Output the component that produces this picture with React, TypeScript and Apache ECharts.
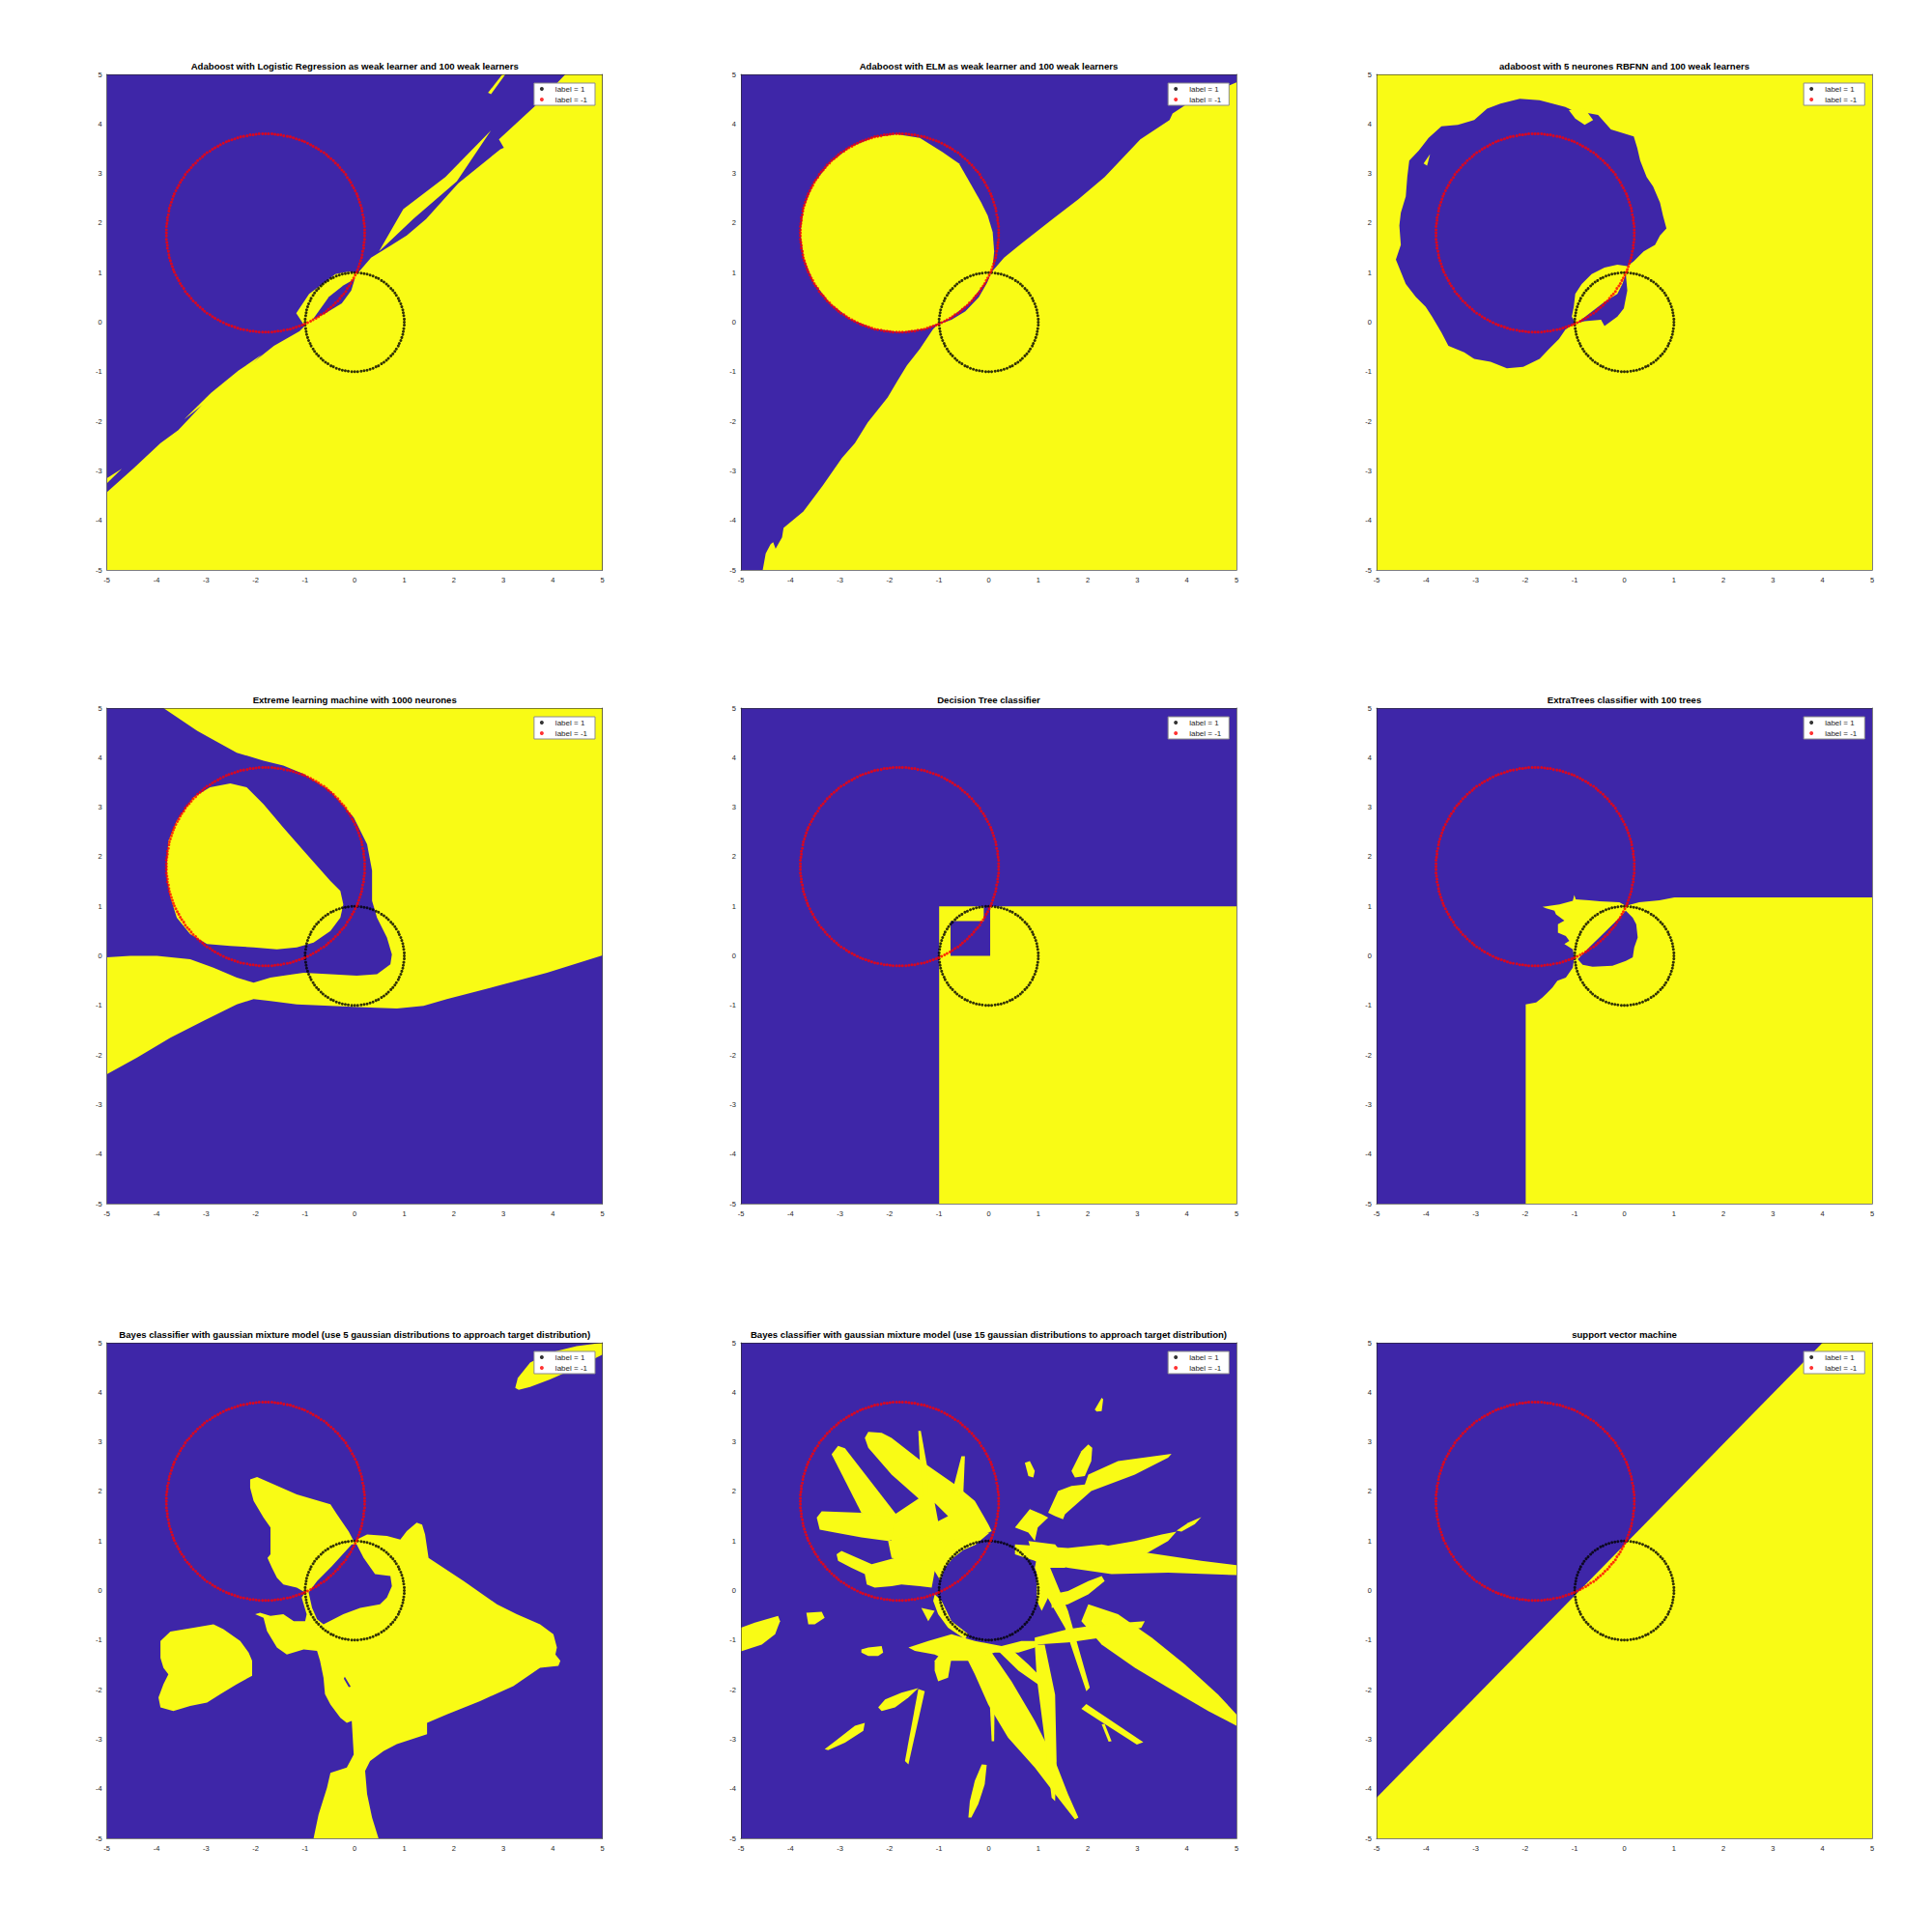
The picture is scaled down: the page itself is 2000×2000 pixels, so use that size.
import { useEffect, useRef } from 'react';
import * as echarts from 'echarts';

type Pt = [number, number];
type Poly = Pt[];

const BLUE = '#3e26a8';
const YELLOW = '#f9fb15';

const AXIS_MIN = -5;
const AXIS_MAX = 5;
const AXIS_STEP = 1;

const LEGEND_NAMES = ['label = 1', 'label = -1'];

const TITLES = [
    'Adaboost with Logistic Regression as weak learner and 100 weak learners',
    'Adaboost with ELM as weak learner and 100 weak learners',
    'adaboost with 5 neurones RBFNN and 100 weak learners',
    'Extreme learning machine with 1000 neurones',
    'Decision Tree classifier',
    'ExtraTrees classifier with 100 trees',
    'Bayes classifier with gaussian mixture model (use 5 gaussian distributions to approach target distribution)',
    'Bayes classifier with gaussian mixture model (use 15 gaussian distributions to approach target distribution)',
    'support vector machine',
];

// samples with label = 1 (black)
const POS_POINTS: Pt[] = [
    [1.00, 0.00], [1.00, 0.06], [0.99, 0.13], [0.98, 0.19], [0.97, 0.25], [0.95, 0.31], [0.93, 0.37], [0.90, 0.43], [0.88, 0.48], [0.84, 0.54],
    [0.81, 0.59], [0.77, 0.64], [0.73, 0.68], [0.68, 0.73], [0.64, 0.77], [0.59, 0.81], [0.54, 0.84], [0.48, 0.88], [0.43, 0.90], [0.37, 0.93],
    [0.31, 0.95], [0.25, 0.97], [0.19, 0.98], [0.13, 0.99], [0.06, 1.00],
    [0.00, 1.00], [-0.06, 1.00], [-0.13, 0.99], [-0.19, 0.98], [-0.25, 0.97], [-0.31, 0.95], [-0.37, 0.93], [-0.43, 0.90], [-0.48, 0.88], [-0.54, 0.84],
    [-0.59, 0.81], [-0.64, 0.77], [-0.68, 0.73], [-0.73, 0.68], [-0.77, 0.64], [-0.81, 0.59], [-0.84, 0.54], [-0.88, 0.48], [-0.90, 0.43], [-0.93, 0.37],
    [-0.95, 0.31], [-0.97, 0.25], [-0.98, 0.19], [-0.99, 0.13], [-1.00, 0.06],
    [-1.00, 0.00], [-1.00, -0.06], [-0.99, -0.13], [-0.98, -0.19], [-0.97, -0.25], [-0.95, -0.31], [-0.93, -0.37], [-0.90, -0.43], [-0.88, -0.48], [-0.84, -0.54],
    [-0.81, -0.59], [-0.77, -0.64], [-0.73, -0.68], [-0.68, -0.73], [-0.64, -0.77], [-0.59, -0.81], [-0.54, -0.84], [-0.48, -0.88], [-0.43, -0.90], [-0.37, -0.93],
    [-0.31, -0.95], [-0.25, -0.97], [-0.19, -0.98], [-0.13, -0.99], [-0.06, -1.00],
    [0.00, -1.00], [0.06, -1.00], [0.13, -0.99], [0.19, -0.98], [0.25, -0.97], [0.31, -0.95], [0.37, -0.93], [0.43, -0.90], [0.48, -0.88], [0.54, -0.84],
    [0.59, -0.81], [0.64, -0.77], [0.68, -0.73], [0.73, -0.68], [0.77, -0.64], [0.81, -0.59], [0.84, -0.54], [0.88, -0.48], [0.90, -0.43], [0.93, -0.37],
    [0.95, -0.31], [0.97, -0.25], [0.98, -0.19], [0.99, -0.13], [1.00, -0.06],
];

// samples with label = -1 (red)
const NEG_POINTS: Pt[] = [
    [0.20, 1.80], [0.20, 1.86], [0.20, 1.93], [0.19, 1.99], [0.18, 2.05], [0.18, 2.11], [0.16, 2.17], [0.15, 2.24], [0.14, 2.30], [0.12, 2.36],
    [0.10, 2.42], [0.08, 2.48], [0.06, 2.54], [0.04, 2.59], [0.01, 2.65], [-0.02, 2.71], [-0.05, 2.76], [-0.08, 2.82], [-0.11, 2.87], [-0.15, 2.92],
    [-0.18, 2.98], [-0.22, 3.03], [-0.26, 3.07], [-0.30, 3.12], [-0.34, 3.17], [-0.39, 3.21], [-0.43, 3.26], [-0.48, 3.30], [-0.53, 3.34], [-0.57, 3.38],
    [-0.62, 3.42], [-0.68, 3.45], [-0.73, 3.49], [-0.78, 3.52], [-0.84, 3.55], [-0.89, 3.58], [-0.95, 3.61], [-1.01, 3.64], [-1.06, 3.66], [-1.12, 3.68],
    [-1.18, 3.70], [-1.24, 3.72], [-1.30, 3.74], [-1.36, 3.75], [-1.43, 3.76], [-1.49, 3.78], [-1.55, 3.78], [-1.61, 3.79], [-1.67, 3.80], [-1.74, 3.80],
    [-1.80, 3.80], [-1.86, 3.80], [-1.93, 3.80], [-1.99, 3.79], [-2.05, 3.78], [-2.11, 3.78], [-2.17, 3.76], [-2.24, 3.75], [-2.30, 3.74], [-2.36, 3.72],
    [-2.42, 3.70], [-2.48, 3.68], [-2.54, 3.66], [-2.59, 3.64], [-2.65, 3.61], [-2.71, 3.58], [-2.76, 3.55], [-2.82, 3.52], [-2.87, 3.49], [-2.92, 3.45],
    [-2.98, 3.42], [-3.03, 3.38], [-3.07, 3.34], [-3.12, 3.30], [-3.17, 3.26], [-3.21, 3.21], [-3.26, 3.17], [-3.30, 3.12], [-3.34, 3.07], [-3.38, 3.03],
    [-3.42, 2.98], [-3.45, 2.92], [-3.49, 2.87], [-3.52, 2.82], [-3.55, 2.76], [-3.58, 2.71], [-3.61, 2.65], [-3.64, 2.59], [-3.66, 2.54], [-3.68, 2.48],
    [-3.70, 2.42], [-3.72, 2.36], [-3.74, 2.30], [-3.75, 2.24], [-3.76, 2.17], [-3.78, 2.11], [-3.78, 2.05], [-3.79, 1.99], [-3.80, 1.93], [-3.80, 1.86],
    [-3.80, 1.80], [-3.80, 1.74], [-3.80, 1.67], [-3.79, 1.61], [-3.78, 1.55], [-3.78, 1.49], [-3.76, 1.43], [-3.75, 1.36], [-3.74, 1.30], [-3.72, 1.24],
    [-3.70, 1.18], [-3.68, 1.12], [-3.66, 1.06], [-3.64, 1.01], [-3.61, 0.95], [-3.58, 0.89], [-3.55, 0.84], [-3.52, 0.78], [-3.49, 0.73], [-3.45, 0.68],
    [-3.42, 0.62], [-3.38, 0.57], [-3.34, 0.53], [-3.30, 0.48], [-3.26, 0.43], [-3.21, 0.39], [-3.17, 0.34], [-3.12, 0.30], [-3.07, 0.26], [-3.03, 0.22],
    [-2.98, 0.18], [-2.92, 0.15], [-2.87, 0.11], [-2.82, 0.08], [-2.76, 0.05], [-2.71, 0.02], [-2.65, -0.01], [-2.59, -0.04], [-2.54, -0.06], [-2.48, -0.08],
    [-2.42, -0.10], [-2.36, -0.12], [-2.30, -0.14], [-2.24, -0.15], [-2.17, -0.16], [-2.11, -0.18], [-2.05, -0.18], [-1.99, -0.19], [-1.93, -0.20], [-1.86, -0.20],
    [-1.80, -0.20], [-1.74, -0.20], [-1.67, -0.20], [-1.61, -0.19], [-1.55, -0.18], [-1.49, -0.18], [-1.43, -0.16], [-1.36, -0.15], [-1.30, -0.14], [-1.24, -0.12],
    [-1.18, -0.10], [-1.12, -0.08], [-1.06, -0.06], [-1.01, -0.04], [-0.95, -0.01], [-0.89, 0.02], [-0.84, 0.05], [-0.78, 0.08], [-0.73, 0.11], [-0.68, 0.15],
    [-0.62, 0.18], [-0.57, 0.22], [-0.53, 0.26], [-0.48, 0.30], [-0.43, 0.34], [-0.39, 0.39], [-0.34, 0.43], [-0.30, 0.48], [-0.26, 0.53], [-0.22, 0.57],
    [-0.18, 0.62], [-0.15, 0.68], [-0.11, 0.73], [-0.08, 0.78], [-0.05, 0.84], [-0.02, 0.89], [0.01, 0.95], [0.04, 1.01], [0.06, 1.06], [0.08, 1.12],
    [0.10, 1.18], [0.12, 1.24], [0.14, 1.30], [0.15, 1.36], [0.16, 1.43], [0.18, 1.49], [0.18, 1.55], [0.19, 1.61], [0.20, 1.67], [0.20, 1.74],
];

// decision regions (x, y in data units)
const LR_YELLOW: Poly[] = [
    [[-5, -3.43], [-4.44, -2.93], [-3.92, -2.44], [-3.56, -2.18], [-2.94, -1.52], [-2.29, -1.0], [-1.63, -0.48], [-1.11, -0.18], [-1.01, -0.08], [-1.18, 0.18], [-0.92, 0.57], [-0.65, 0.77], [-0.39, 0.97], [-0.13, 1.02], [0.07, 1.0], [0.33, 1.30], [0.59, 1.46], [1.05, 1.75], [1.44, 2.08], [2.09, 2.80], [2.94, 3.49], [3.01, 3.52], [2.91, 3.69], [3.66, 4.38], [4.25, 5], [5, 5], [5, -5], [-5, -5]],
    [[0.49, 1.43], [0.98, 2.28], [1.83, 2.93], [2.75, 3.87], [2.06, 2.84], [1.18, 2.08], [0.59, 1.52]],
    [[2.69, 4.63], [2.98, 5], [3.04, 5], [2.75, 4.6]],
    [[-5, -3.25], [-4.7, -2.96], [-5, -3.15]],
    [[-3.45, -1.97], [-2.9, -1.43], [-2.35, -0.98], [-1.88, -0.66], [-2.3, -1.06]],
];
const LR_BLUE: Poly[] = [
    [[-0.85, 0.05], [-0.52, 0.51], [-0.23, 0.74], [0.0, 0.87], [-0.07, 0.64], [-0.26, 0.38], [-0.59, 0.18]],
];

const ELM_ADA_YELLOW: Poly[] = [
    [[-4.56, -5], [-4.50, -4.67], [-4.40, -4.48], [-4.35, -4.44], [-4.30, -4.57], [-4.17, -4.34], [-4.14, -4.15], [-3.74, -3.82], [-3.35, -3.30], [-2.96, -2.74], [-2.70, -2.44], [-2.44, -2.02], [-2.04, -1.52], [-1.85, -1.20], [-1.65, -0.87], [-1.39, -0.54], [-1.13, -0.15], [-1.03, -0.05], [-0.75, 0.05], [-0.47, 0.22], [-0.2, 0.5], [-0.03, 0.8], [0.05, 1.0], [0.31, 1.30], [0.70, 1.62], [1.29, 2.08], [1.81, 2.48], [2.34, 2.93], [3.06, 3.69], [3.65, 4.08], [3.71, 4.21], [3.97, 4.38], [4.37, 4.57], [5, 4.84], [5, -5]],
    [[-1.85, 3.79], [-1.39, 3.72], [-0.93, 3.43], [-0.60, 3.20], [-0.41, 2.87], [-0.15, 2.41], [-0.02, 2.15], [0.08, 1.82], [0.11, 1.43], [0.08, 1.10], [0.05, 1.0], [-0.07, 0.80], [-0.39, 0.39], [-0.80, 0.07], [-1.28, -0.13], [-1.8, -0.2], [-2.32, -0.13], [-2.8, 0.07], [-3.21, 0.39], [-3.53, 0.8], [-3.73, 1.28], [-3.8, 1.8], [-3.73, 2.32], [-3.53, 2.8], [-3.21, 3.21], [-2.8, 3.53], [-2.32, 3.73]],
];

const RBF_BLUE: Poly[] = [
    [[-2.11, 4.51], [-1.71, 4.48], [-1.19, 4.34], [-1.06, 4.28], [-0.53, 4.18], [-0.27, 3.89], [0.19, 3.75], [0.26, 3.52], [0.32, 3.26], [0.45, 2.93], [0.58, 2.74], [0.72, 2.41], [0.78, 2.15], [0.85, 1.89], [0.72, 1.75], [0.62, 1.56], [0.39, 1.43], [0.19, 1.23], [0.06, 1.13], [-0.14, 1.16], [-0.40, 1.10], [-0.66, 0.97], [-0.86, 0.77], [-0.99, 0.57], [-1.02, 0.31], [-1.06, 0.11], [-0.99, -0.02], [-1.19, -0.15], [-1.32, -0.34], [-1.52, -0.54], [-1.71, -0.74], [-2.04, -0.90], [-2.37, -0.93], [-2.70, -0.80], [-3.03, -0.74], [-3.23, -0.61], [-3.55, -0.48], [-3.69, -0.21], [-3.88, 0.11], [-4.01, 0.31], [-4.21, 0.51], [-4.41, 0.77], [-4.61, 1.26], [-4.51, 1.56], [-4.54, 1.95], [-4.51, 2.21], [-4.41, 2.54], [-4.38, 2.93], [-4.34, 3.26], [-4.15, 3.46], [-3.95, 3.72], [-3.69, 3.95], [-3.36, 3.98], [-3.03, 4.08], [-2.77, 4.31], [-2.50, 4.41]],
    [[-0.96, -0.02], [-0.66, 0.21], [-0.40, 0.41], [-0.14, 0.57], [-0.04, 0.77], [0.03, 0.97], [0.06, 0.64], [-0.01, 0.28], [-0.14, 0.11], [-0.40, -0.08], [-0.47, 0.05], [-0.80, 0.02]],
];
const RBF_YELLOW: Poly[] = [
    [[-1.12, 4.28], [-0.80, 4.31], [-0.63, 4.08], [-0.80, 3.98], [-0.99, 4.11]],
    [[-4.05, 3.2], [-3.92, 3.39], [-3.98, 3.16]],
];

const ELM_YELLOW: Poly[] = [
    [[-3.86, 5], [5, 5], [5, 0.01], [3.88, -0.34], [2.87, -0.61], [1.86, -0.87], [1.39, -1.01], [0.85, -1.06], [0.18, -1.04], [-0.49, -1.01], [-1.17, -0.98], [-1.70, -0.91], [-2.04, -0.87], [-2.38, -0.98], [-3.05, -1.31], [-3.72, -1.65], [-4.39, -2.05], [-5, -2.39], [-5, -0.03], [-4.53, 0.0], [-3.99, 0.0], [-3.32, -0.07], [-2.85, -0.24], [-2.38, -0.44], [-2.04, -0.54], [-1.70, -0.44], [-1.44, -0.40], [-1.03, -0.34], [-0.49, -0.37], [0.04, -0.40], [0.45, -0.37], [0.72, -0.17], [0.75, 0.03], [0.65, 0.37], [0.45, 0.77], [0.35, 1.11], [0.35, 1.72], [0.25, 2.25], [-0.02, 2.79], [-0.49, 3.33], [-1.03, 3.67], [-1.44, 3.84], [-1.84, 3.94], [-2.38, 4.10], [-3.18, 4.54]],
    [[-3.79, 1.85], [-3.76, 2.32], [-3.59, 2.73], [-3.25, 3.20], [-2.92, 3.40], [-2.51, 3.48], [-2.18, 3.40], [-1.84, 3.06], [-1.44, 2.59], [-1.03, 2.12], [-0.49, 1.51], [-0.29, 1.31], [-0.23, 1.04], [-0.29, 0.77], [-0.49, 0.50], [-0.83, 0.27], [-1.17, 0.17], [-1.57, 0.13], [-2.04, 0.17], [-2.51, 0.20], [-2.98, 0.24], [-3.32, 0.44], [-3.59, 0.77], [-3.72, 1.18], [-3.79, 1.58]],
];

const TREE_YELLOW: Poly[] = [
    [[-1, -5], [5, -5], [5, 1], [0.03, 1], [0.03, 0], [-0.77, 0], [-0.77, 0.7], [-0.1, 0.7], [-0.1, 1], [-1, 1]],
];

const EXTRA_YELLOW: Poly[] = [
    [[5, 1.18], [1.01, 1.18], [0.71, 1.12], [0.30, 1.08], [0.03, 1.01], [-0.10, 1.08], [-0.50, 1.10], [-0.71, 1.12], [-0.98, 1.14], [-1.01, 1.23], [-1.04, 1.11], [-1.31, 1.04], [-1.65, 0.99], [-1.58, 0.96], [-1.41, 0.91], [-1.38, 0.84], [-1.21, 0.71], [-1.34, 0.64], [-1.34, 0.47], [-1.18, 0.40], [-1.11, 0.30], [-1.21, 0.24], [-1.04, 0.13], [-1.01, -0.03], [-1.04, -0.24], [-1.18, -0.44], [-1.35, -0.50], [-1.45, -0.64], [-1.55, -0.74], [-1.65, -0.84], [-1.78, -0.94], [-1.99, -0.98], [-1.99, -5], [5, -5]],
];
const EXTRA_BLUE: Poly[] = [
    [[-0.94, -0.07], [-0.71, 0.17], [-0.37, 0.50], [-0.10, 0.77], [0.03, 0.91], [0.17, 0.77], [0.24, 0.64], [0.27, 0.37], [0.20, 0.17], [0.17, -0.03], [0.03, -0.10], [-0.24, -0.20], [-0.64, -0.22], [-0.84, -0.18]],
];

const GMM5_YELLOW: Poly[] = [
    [[3.24, 4.09], [3.29, 4.29], [3.54, 4.60], [3.94, 4.80], [4.48, 4.93], [5, 5], [5, 4.76], [4.48, 4.50], [3.94, 4.26], [3.54, 4.11], [3.31, 4.05]],
    [[-2.11, 2.24], [-1.97, 2.29], [-1.17, 1.94], [-0.49, 1.74], [-0.36, 1.54], [-0.12, 1.19], [-0.02, 1.0], [0.25, 1.13], [0.65, 1.10], [0.92, 1.03], [1.05, 1.20], [1.25, 1.37], [1.36, 1.33], [1.42, 1.13], [1.49, 0.66], [2.20, 0.19], [2.87, -0.28], [3.27, -0.48], [3.74, -0.68], [4.01, -0.88], [4.08, -1.15], [4.05, -1.29], [4.15, -1.42], [4.11, -1.52], [3.74, -1.56], [3.20, -1.93], [2.53, -2.23], [1.86, -2.50], [1.46, -2.67], [1.46, -2.90], [0.85, -3.10], [0.58, -3.24], [0.31, -3.44], [0.21, -3.64], [0.25, -4.11], [0.35, -4.58], [0.48, -5.0], [-0.83, -5.0], [-0.73, -4.52], [-0.56, -3.98], [-0.49, -3.68], [-0.16, -3.57], [-0.02, -3.31], [-0.06, -2.63], [-0.16, -2.67], [-0.29, -2.57], [-0.49, -2.30], [-0.60, -2.09], [-0.63, -1.76], [-0.70, -1.42], [-0.76, -1.22], [-1.03, -1.19], [-1.37, -1.29], [-1.57, -1.15], [-1.77, -0.82], [-1.84, -0.55], [-2.01, -0.48], [-1.91, -0.45], [-1.70, -0.51], [-1.44, -0.48], [-1.23, -0.62], [-1.0, -0.62], [-0.97, -0.48], [-1.03, -0.28], [-1.07, -0.14], [-1.0, -0.04], [-1.17, 0.06], [-1.44, 0.12], [-1.57, 0.26], [-1.67, 0.46], [-1.76, 0.66], [-1.70, 0.73], [-1.70, 1.27], [-1.84, 1.47], [-2.04, 1.81], [-2.11, 2.07]],
    [[-3.92, -1.02], [-3.72, -0.83], [-3.25, -0.75], [-2.85, -0.68], [-2.65, -0.78], [-2.31, -1.02], [-2.14, -1.25], [-2.07, -1.42], [-2.07, -1.72], [-2.38, -1.89], [-2.71, -2.09], [-2.98, -2.26], [-3.32, -2.33], [-3.66, -2.43], [-3.92, -2.36], [-3.96, -2.16], [-3.86, -1.89], [-3.76, -1.69], [-3.86, -1.56], [-3.92, -1.36]],
];
const GMM5_BLUE: Poly[] = [
    [[-0.93, -0.04], [-0.76, 0.19], [-0.46, 0.49], [-0.06, 0.93], [0.04, 0.93], [0.18, 0.66], [0.41, 0.33], [0.72, 0.29], [0.75, 0.09], [0.65, -0.14], [0.51, -0.28], [0.11, -0.35], [-0.23, -0.48], [-0.63, -0.68], [-0.76, -0.58], [-0.86, -0.35]],
    [[-0.2, -1.74], [-0.08, -1.94], [-0.12, -1.95], [-0.22, -1.78]],
];

const GMM15_YELLOW: Poly[] = [
    [[-3.17, 2.75], [-3.04, 2.92], [-2.90, 2.87], [-1.76, 1.40], [-2.03, 1.27], [-2.57, 1.57]],
    [[-2.50, 3.08], [-2.43, 3.20], [-2.16, 3.18], [-1.96, 3.08], [-1.36, 2.61], [-0.68, 2.14], [-0.28, 1.81], [-0.01, 1.34], [0.06, 1.20], [-0.41, 1.0], [-0.82, 1.40], [-1.36, 1.81], [-1.96, 2.34], [-2.43, 2.88]],
    [[-3.47, 1.47], [-3.37, 1.60], [-2.57, 1.57], [-1.89, 1.47], [-1.36, 1.40], [-0.75, 1.34], [-0.01, 1.17], [-0.41, 1.0], [-1.09, 1.0], [-1.62, 1.10], [-2.03, 1.0], [-2.57, 1.07], [-3.10, 1.17], [-3.41, 1.23]],
    [[-3.07, 0.73], [-2.97, 0.80], [-2.36, 0.53], [-1.89, 0.66], [-1.36, 0.93], [-0.88, 0.86], [-0.82, 0.60], [-1.09, 0.39], [-1.15, 0.06], [-1.39, 0.09], [-1.76, 0.12], [-1.96, 0.09], [-2.30, 0.06], [-2.46, 0.12], [-2.50, 0.33], [-2.77, 0.46], [-3.04, 0.60]],
    [[-1.42, 3.22], [-1.37, 3.22], [-1.25, 2.55], [-1.22, 1.94], [-1.32, 1.94], [-1.39, 2.61]],
    [[-0.55, 2.71], [-0.48, 2.71], [-0.51, 2.01], [-0.68, 1.81], [-0.75, 1.94]],
    [[-1.89, 1.54], [-1.29, 1.94], [-0.68, 1.94], [-0.28, 1.74], [0.02, 1.23], [-0.48, 0.93], [-1.09, 0.86], [-1.49, 0.93], [-1.96, 1.0]],
    [[-2.03, 1.0], [-1.36, 1.13], [-0.82, 1.0], [-0.82, 0.60], [-1.36, 0.60], [-1.96, 0.66]],
    [[-0.82, 1.0], [0.02, 1.17], [-0.27, 0.92], [-0.51, 0.82], [-0.72, 0.66], [-0.88, 0.46], [-0.98, 0.21], [-1.09, 0.39]],
    [[0.53, 0.93], [1.60, 0.86], [2.28, 0.93], [2.95, 0.80], [4.29, 0.60], [5.0, 0.51], [5.0, 0.31], [3.62, 0.36], [2.48, 0.33], [1.60, 0.46], [0.93, 0.60], [0.53, 0.73]],
    [[2.14, 0.86], [2.95, 1.0], [3.49, 1.13], [3.79, 1.19], [3.62, 1.0], [3.15, 0.73], [2.48, 0.60]],
    [[1.20, 1.57], [1.40, 2.01], [1.67, 2.11], [1.94, 2.14], [2.01, 2.34], [2.61, 2.61], [3.69, 2.76], [3.62, 2.68], [2.95, 2.34], [2.07, 2.01], [1.54, 1.54], [1.50, 1.44], [1.34, 1.50]],
    [[3.79, 1.21], [4.03, 1.37], [4.29, 1.48], [4.16, 1.34], [3.89, 1.19]],
    [[1.67, 2.41], [1.87, 2.81], [2.01, 2.95], [2.09, 2.88], [2.07, 2.61], [1.94, 2.31], [1.74, 2.28]],
    [[0.73, 2.58], [0.83, 2.61], [0.93, 2.41], [0.90, 2.28], [0.80, 2.31]],
    [[2.14, 3.65], [2.28, 3.89], [2.31, 3.86], [2.28, 3.62], [2.18, 3.61]],
    [[0.53, 1.27], [0.83, 1.64], [1.07, 1.54], [1.20, 1.47], [0.99, 1.27], [0.93, 1.0], [0.80, 1.17]],
    [[0.80, 1.0], [1.34, 0.93], [1.60, 0.60], [1.54, 0.46], [1.20, 0.46], [0.93, 0.60]],
    [[2.01, -0.28], [2.61, -0.48], [3.29, -0.95], [3.96, -1.49], [4.63, -2.10], [5.0, -2.50], [5.0, -2.73], [4.43, -2.43], [3.62, -1.96], [2.95, -1.56], [2.28, -1.09], [1.87, -0.62]],
    [[0.97, 0.66], [1.17, 0.63], [1.60, -0.41], [2.04, -1.96], [1.97, -2.03], [1.54, -0.75], [1.07, 0.06], [0.93, 0.46]],
    [[1.27, -0.08], [1.60, -0.01], [2.01, 0.19], [2.28, 0.29], [2.34, 0.19], [2.01, -0.08], [1.60, -0.28], [1.27, -0.35]],
    [[0.93, -0.95], [1.60, -0.78], [2.28, -0.68], [3.15, -0.62], [3.08, -0.75], [2.28, -0.95], [1.60, -1.05], [0.93, -1.09]],
    [[1.87, -2.39], [1.97, -2.29], [3.12, -3.06], [2.99, -3.11]],
    [[2.28, -2.70], [2.34, -2.69], [2.48, -3.04], [2.42, -3.05]],
    [[-0.41, -1.02], [-0.01, -1.15], [0.46, -1.83], [0.93, -2.63], [1.34, -3.44], [1.60, -4.11], [1.81, -4.58], [1.74, -4.62], [1.34, -4.11], [0.93, -3.57], [0.39, -2.97], [-0.01, -2.30], [-0.28, -1.69], [-0.55, -1.15]],
    [[0.93, -1.09], [1.13, -1.09], [1.34, -2.10], [1.37, -3.44], [1.34, -4.25], [1.27, -4.18], [1.10, -2.77], [0.97, -1.76]],
    [[0.02, -2.23], [0.12, -2.23], [0.11, -3.04], [0.06, -3.04]],
    [[-1.42, -1.99], [-1.29, -2.03], [-1.62, -3.51], [-1.69, -3.44]],
    [[-2.23, -2.36], [-2.09, -2.20], [-1.76, -2.06], [-1.42, -1.97], [-1.62, -2.16], [-1.89, -2.36], [-2.16, -2.43]],
    [[-3.31, -3.20], [-3.10, -3.04], [-2.70, -2.73], [-2.50, -2.67], [-2.53, -2.83], [-2.90, -3.07], [-3.24, -3.22]],
    [[-0.41, -4.58], [-0.38, -4.25], [-0.28, -3.84], [-0.14, -3.51], [-0.04, -3.52], [-0.08, -3.91], [-0.21, -4.31], [-0.35, -4.58]],
    [[-2.57, -1.19], [-2.43, -1.15], [-2.16, -1.12], [-2.13, -1.25], [-2.23, -1.32], [-2.43, -1.32], [-2.57, -1.25]],
    [[-5.0, -0.75], [-4.72, -0.65], [-4.25, -0.51], [-4.21, -0.62], [-4.31, -0.88], [-4.58, -1.09], [-5.0, -1.23]],
    [[-3.68, -0.45], [-3.37, -0.43], [-3.31, -0.55], [-3.51, -0.68], [-3.64, -0.68]],
    [[-1.62, -1.15], [-1.22, -1.02], [-0.75, -0.88], [-0.28, -1.02], [0.26, -1.12], [0.66, -1.02], [1.07, -1.02], [0.93, -1.15], [0.60, -1.25], [0.12, -1.25], [-0.41, -1.42], [-0.82, -1.42], [-1.09, -1.29], [-1.49, -1.22]],
    [[-1.09, -1.42], [-0.88, -1.15], [-0.75, -1.36], [-0.82, -1.76], [-1.02, -1.83], [-1.09, -1.62]],
    [[0.12, -1.15], [0.39, -1.12], [0.80, -1.49], [1.27, -1.96], [1.13, -1.99], [0.60, -1.62]],
    [[-1.36, -0.35], [-1.09, -0.41], [-1.22, -0.62]],
    [[-1.09, -0.08], [-0.95, -0.21], [-0.75, -0.62], [-0.41, -0.88], [-0.48, -0.98], [-0.82, -0.75], [-1.02, -0.48], [-1.12, -0.21]],
    [[0.97, 0.73], [1.17, 0.66], [1.23, -0.08], [1.07, -0.41], [0.97, -0.21]],
];
const GMM15_BLUE: Poly[] = [
    [[-1.09, 1.77], [-0.82, 1.50], [-1.02, 1.40]],
];

const SVM_YELLOW: Poly[] = [
    [[-5, -4.18], [4.0, 5], [5, 5], [5, -5], [-5, -5]],
];

const PANELS: { base: string; layers: [string, Poly[]][] }[] = [
    { base: BLUE, layers: [[YELLOW, LR_YELLOW], [BLUE, LR_BLUE]] },
    { base: BLUE, layers: [[YELLOW, ELM_ADA_YELLOW]] },
    { base: YELLOW, layers: [[BLUE, RBF_BLUE], [YELLOW, RBF_YELLOW]] },
    { base: BLUE, layers: [[YELLOW, ELM_YELLOW]] },
    { base: BLUE, layers: [[YELLOW, TREE_YELLOW]] },
    { base: BLUE, layers: [[YELLOW, EXTRA_YELLOW], [BLUE, EXTRA_BLUE]] },
    { base: BLUE, layers: [[YELLOW, GMM5_YELLOW], [BLUE, GMM5_BLUE]] },
    { base: BLUE, layers: [[YELLOW, GMM15_YELLOW], [BLUE, GMM15_BLUE]] },
    { base: BLUE, layers: [[YELLOW, SVM_YELLOW]] },
];

// layout (px)
const CANVAS = 2000;
const COL_LEFT = [110.7, 767, 1425];
const ROW_TOP = [77, 733, 1390];
const PLOT_SIZE = 513;
const FONT = '"Liberation Sans", Arial, Helvetica, sans-serif';

export default function App() {
    const chartRef = useRef<HTMLDivElement>(null);

    useEffect(() => {
        if (!chartRef.current) return;
        const chart = echarts.init(chartRef.current, null, { renderer: 'svg' });

        const grid: any[] = [];
        const xAxis: any[] = [];
        const yAxis: any[] = [];
        const title: any[] = [];
        const legend: any[] = [];
        const series: any[] = [];

        const edge = { show: true, onZero: false, lineStyle: { color: '#262626', width: 0.6 } };

        PANELS.forEach((panel, i) => {
            const left = COL_LEFT[i % 3];
            const top = ROW_TOP[Math.floor(i / 3)];

            grid.push({
                left, top, width: PLOT_SIZE, height: PLOT_SIZE,
                show: true, backgroundColor: panel.base, borderWidth: 0,
            });

            // bottom / top, left / right: box around each plot
            xAxis.push({
                type: 'value', gridIndex: i, min: AXIS_MIN, max: AXIS_MAX, interval: AXIS_STEP,
                position: 'bottom', z: 5, axisLine: edge, axisTick: { show: false }, splitLine: { show: false },
                axisLabel: { fontSize: 7.5, color: '#262626', margin: 6, fontFamily: FONT },
            });
            xAxis.push({
                type: 'value', gridIndex: i, min: AXIS_MIN, max: AXIS_MAX, interval: AXIS_STEP,
                position: 'top', z: 5, axisLine: edge, axisTick: { show: false }, splitLine: { show: false },
                axisLabel: { show: false },
            });
            yAxis.push({
                type: 'value', gridIndex: i, min: AXIS_MIN, max: AXIS_MAX, interval: AXIS_STEP,
                position: 'left', z: 5, axisLine: edge, axisTick: { show: false }, splitLine: { show: false },
                axisLabel: { fontSize: 7.5, color: '#262626', margin: 5, fontFamily: FONT },
            });
            yAxis.push({
                type: 'value', gridIndex: i, min: AXIS_MIN, max: AXIS_MAX, interval: AXIS_STEP,
                position: 'right', z: 5, axisLine: edge, axisTick: { show: false }, splitLine: { show: false },
                axisLabel: { show: false },
            });

            title.push({
                text: TITLES[i],
                left: left + PLOT_SIZE / 2,
                top: top - 14.5,
                textAlign: 'center',
                padding: 0,
                textStyle: { fontSize: 9.6, fontWeight: 'bold', color: '#000', fontFamily: FONT, lineHeight: 12 },
            });

            legend.push({
                data: LEGEND_NAMES,
                orient: 'vertical',
                right: CANVAS - (left + PLOT_SIZE) + 7.7,
                top: top + 9,
                icon: 'circle',
                itemWidth: 18,
                itemHeight: 4,
                itemGap: 1,
                padding: [1, 8, 1, 6],
                backgroundColor: '#fff',
                borderColor: '#8c8c8c',
                borderWidth: 1,
                selectedMode: false,
                textStyle: { fontSize: 8, color: '#262626', lineHeight: 10, fontFamily: FONT },
            });

            const items = panel.layers.flatMap(([color, polys]) => polys.map((poly) => ({ color, poly })));
            series.push({
                type: 'custom',
                xAxisIndex: 2 * i,
                yAxisIndex: 2 * i,
                clip: true,
                silent: true,
                z: 2,
                data: items.map((it) => it.poly[0]),
                renderItem: (params: any, api: any) => {
                    const it = items[params.dataIndex];
                    return {
                        type: 'polygon',
                        shape: { points: it.poly.map((p) => api.coord(p)) },
                        style: { fill: it.color },
                    };
                },
            });
            series.push({
                type: 'scatter', name: LEGEND_NAMES[0], xAxisIndex: 2 * i, yAxisIndex: 2 * i,
                data: POS_POINTS, symbolSize: 3, itemStyle: { color: '#000' }, z: 3, silent: true,
            });
            series.push({
                type: 'scatter', name: LEGEND_NAMES[1], xAxisIndex: 2 * i, yAxisIndex: 2 * i,
                data: NEG_POINTS, symbolSize: 3, itemStyle: { color: '#ff0000' }, z: 3, silent: true,
            });
        });

        chart.setOption({
            animation: false,
            backgroundColor: '#fff',
            textStyle: { fontFamily: FONT },
            grid, xAxis, yAxis, title, legend, series,
        });

        return () => {
            chart.dispose();
        };
    }, []);

    return (
        <div
            ref={chartRef}
            style={{ position: 'absolute', left: 0, top: 0, width: CANVAS, height: CANVAS }}
        />
    );
}
